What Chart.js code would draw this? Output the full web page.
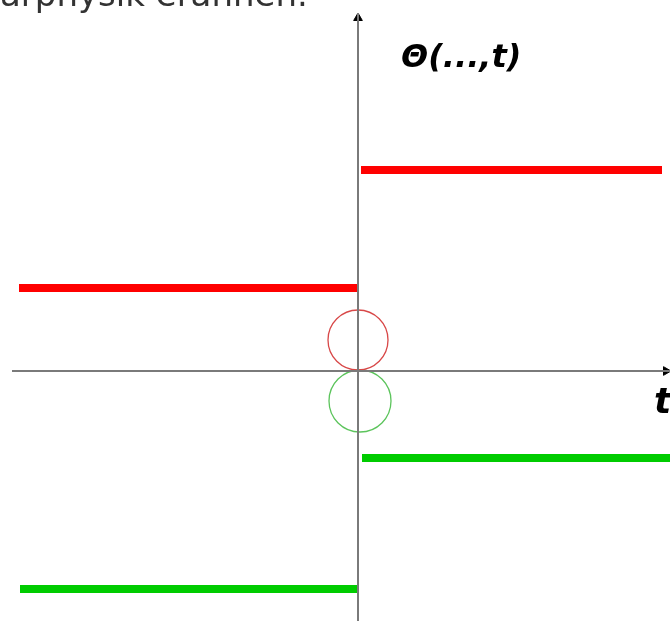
<!DOCTYPE html>
<html>
<head>
<meta charset="utf-8">
<script src="https://cdn.jsdelivr.net/npm/chart.js@4"></script>
<style>
  body { margin: 0; background: #fff; overflow: hidden; }
  #wrap { position: relative; width: 670px; height: 621px; }
  .lbl { position: absolute; font-family: "DejaVu Sans", sans-serif; white-space: nowrap; }
  #topText { left: 0px; top: -23px; font-size: 34px; line-height: 34px; color: #333; }
  #theta { left: 401px; top: 40px; font-size: 32px; line-height: 32px; font-weight: bold; font-style: italic; color: #000; }
  #tLbl { left: 654px; top: 383px; font-size: 36px; line-height: 36px; font-weight: bold; font-style: italic; color: #000; }
</style>
</head>
<body>
<div id="wrap">
  <canvas id="myChart" width="670" height="621"></canvas>
  <div class="lbl" id="topText">arphysik erahnen.</div>
  <div class="lbl" id="theta">&Theta;(...,t)</div>
  <div class="lbl" id="tLbl">t</div>
</div>
<script>
// ranges of the drawing (t horizontally, theta vertically)
const tRange = [-3.58, 3.12];
const yRange = [-2.50, 3.71];

// step segments: start and end of t for each piece
const redLeftT = [-3.39, -0.01];
const redRightT = [0.03, 3.04];
const greenLeftT = [-3.38, -0.01];
const greenRightT = [0.04, 3.12];

// levels of each step: [left, right]
const redLevels = [0.83, 2.01];
const greenLevels = [-2.18, -0.87];

// the two circles at the jump
const redCircle = [0.0, 0.31];
const greenCircle = [0.02, -0.30];

// axes
const hAxisT = [-3.46, 3.12];
const vAxisY = [-2.50, 3.58];

function seg(ts, y) {
	return [{ x: ts[0], y: y }, { x: ts[1], y: y }];
}

const ctx = document.getElementById("myChart").getContext("2d");

let myChart = new Chart(ctx, {
	type: "scatter",
	data: {
		datasets: [
			{
				label: "t axis",
				data: seg(hAxisT, 0),
				showLine: true,
				borderColor: "#7a7a7a",
				borderWidth: 2,
				pointRadius: 0,
			},
			{
				label: "theta axis",
				data: [{ x: 0, y: vAxisY[0] }, { x: 0, y: vAxisY[1] }],
				showLine: true,
				borderColor: "#7a7a7a",
				borderWidth: 2,
				pointRadius: 0,
			},
			{
				label: "arrow t",
				data: [{ x: hAxisT[1] - 0.04, y: 0 }],
				pointStyle: "triangle",
				rotation: 90,
				pointRadius: 5,
				backgroundColor: "#000",
				borderColor: "#000",
				borderWidth: 1,
			},
			{
				label: "arrow theta",
				data: [{ x: 0, y: vAxisY[1] - 0.05 }],
				pointStyle: "triangle",
				pointRadius: 5,
				backgroundColor: "#000",
				borderColor: "#000",
				borderWidth: 1,
			},
			{
				label: "red left",
				data: seg(redLeftT, redLevels[0]),
				showLine: true,
				borderColor: "#ff0000",
				borderWidth: 8,
				borderCapStyle: "butt",
				pointRadius: 0,
			},
			{
				label: "red right",
				data: seg(redRightT, redLevels[1]),
				showLine: true,
				borderColor: "#ff0000",
				borderWidth: 8,
				borderCapStyle: "butt",
				pointRadius: 0,
			},
			{
				label: "green left",
				data: seg(greenLeftT, greenLevels[0]),
				showLine: true,
				borderColor: "#00cc00",
				borderWidth: 8,
				borderCapStyle: "butt",
				pointRadius: 0,
			},
			{
				label: "green right",
				data: seg(greenRightT, greenLevels[1]),
				showLine: true,
				borderColor: "#00cc00",
				borderWidth: 8,
				borderCapStyle: "butt",
				pointRadius: 0,
			},
			{
				label: "red circle",
				data: [{ x: redCircle[0], y: redCircle[1] }],
				pointStyle: "circle",
				pointRadius: 30,
				backgroundColor: "rgba(0,0,0,0)",
				borderColor: "#d84848",
				borderWidth: 1.3,
			},
			{
				label: "green circle",
				data: [{ x: greenCircle[0], y: greenCircle[1] }],
				pointStyle: "circle",
				pointRadius: 31,
				backgroundColor: "rgba(0,0,0,0)",
				borderColor: "#5cc45c",
				borderWidth: 1.3,
			},
		],
	},
	options: {
		responsive: false,
		animation: false,
		devicePixelRatio: 1,
		layout: { padding: 0, autoPadding: false },
		scales: {
			x: { type: "linear", min: tRange[0], max: tRange[1], display: false },
			y: { type: "linear", min: yRange[0], max: yRange[1], display: false }
		},
		plugins: {
			legend: { display: false },
			tooltip: { enabled: false }
		}
	},
});
</script>
</body>
</html>
